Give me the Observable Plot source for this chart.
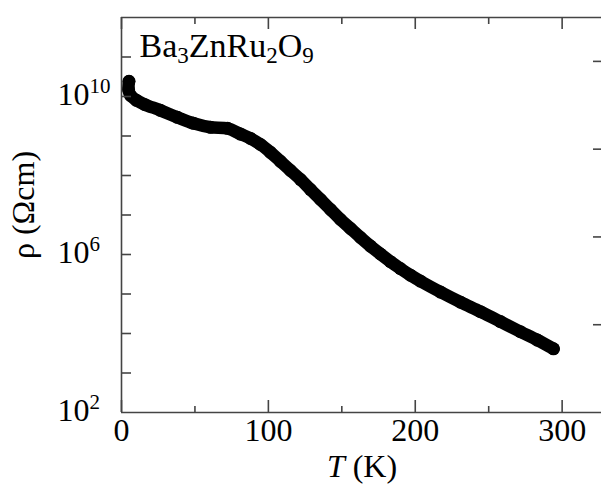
<!DOCTYPE html>
<html><head><meta charset="utf-8">
<script src="https://cdn.jsdelivr.net/npm/d3@7"></script>
<script src="https://cdn.jsdelivr.net/npm/@observablehq/plot@0.6"></script>
<style>
html,body{margin:0;padding:0;background:#fff}
svg{display:block}
svg text{font-family:'Liberation Serif','Times New Roman',serif !important;}
</style>
</head><body><div id="chart"></div>
<script>
// Data (T in K, rho in Ohm cm)
const temperature = [5.1, 4.8, 6.1, 10.2, 15.7, 26.5, 38.1, 49.0, 60.6, 72.2, 81.0, 87.8, 94.6, 101.4, 108.2, 115.0, 121.9, 128.7, 135.5, 142.3, 149.1, 155.9, 162.7, 169.5, 176.3, 183.1, 189.9, 196.7, 203.5, 217.2, 230.8, 244.4, 258.0, 271.6, 283.2, 294.1];
const resistivity = [2.43e10, 1.5e10, 1.07e10, 8.0e9, 6.3e9, 4.47e9, 2.97e9, 2.09e9, 1.66e9, 1.56e9, 1.12e9, 8.7e8, 6.1e8, 3.85e8, 2.28e8, 1.34e8, 7.9e7, 4.4e7, 2.47e7, 1.38e7, 7.7e6, 4.55e6, 2.69e6, 1.63e6, 1.03e6, 6.6e5, 4.4e5, 3.0e5, 2.12e5, 1.12e5, 6.2e4, 3.57e4, 2.0e4, 1.11e4, 6.8e3, 4.1e3];

const xDomain = [0, 326.8];
const yDomain = [1e2, 1e12];
const xMajorTicks = [0, 100, 200, 300];
const xMinorTicks = [50, 150, 250];
const yDecadeExponents = [3, 4, 5, 6, 7, 8, 9, 10, 11];
const yLabelExponents = [2, 6, 10];
const rightTicks = [1, 2, 3, 4];
const rightAxisMax = 4.5;

const data = temperature.map((t, i) => ({T: t, rho: resistivity[i]}));

const W = 601, H = 484;
const mL = 121, mR = 0, mT = 17, mB = 72;
const iw = W - mL - mR, ih = H - mT - mB;
const axisColor = "#444";
const serif = "'Liberation Serif', 'Times New Roman', serif";

const yLog = (e) => Math.pow(10, e);
const rightToY = (k) => Math.pow(10, Math.log10(yDomain[0]) + (Math.log10(yDomain[1]) - Math.log10(yDomain[0])) * k / rightAxisMax);

const chart = Plot.plot({
  width: W, height: H,
  marginLeft: mL, marginRight: mR, marginTop: mT, marginBottom: mB,
  style: {fontFamily: serif, background: "#fff", color: "#000"},
  x: {domain: xDomain, axis: null},
  y: {type: "log", domain: yDomain, axis: null},
  marks: [
    Plot.line(data, {x: "T", y: "rho", stroke: "#000", strokeWidth: 12.5, strokeLinecap: "round", strokeLinejoin: "round", curve: "catmull-rom"}),
    Plot.dot(data, {x: "T", y: "rho", r: 6.5, fill: "#000", stroke: "none"}),
    // frame lines (left, top, bottom)
    Plot.ruleX([xDomain[0]], {stroke: axisColor, strokeWidth: 1.6}),
    Plot.ruleY([yDomain[0], yDomain[1]], {stroke: axisColor, strokeWidth: 1.6}),
    // x ticks (inward) bottom and top
    Plot.tickX(xMajorTicks, {x: d => d, stroke: axisColor, strokeWidth: 1.6, insetTop: ih - 12}),
    Plot.tickX(xMinorTicks, {x: d => d, stroke: axisColor, strokeWidth: 1.6, insetTop: ih - 6}),
    Plot.tickX(xMajorTicks, {x: d => d, stroke: axisColor, strokeWidth: 1.6, insetBottom: ih - 12}),
    Plot.tickX(xMinorTicks, {x: d => d, stroke: axisColor, strokeWidth: 1.6, insetBottom: ih - 7}),
    // y ticks left (decades)
    Plot.tickY(yDecadeExponents, {y: d => yLog(d), stroke: axisColor, strokeWidth: 1.6, insetRight: iw - 10}),
    // right-side ticks
    Plot.tickY(rightTicks, {y: d => rightToY(d), stroke: axisColor, strokeWidth: 1.6, insetLeft: iw - 8}),
    // x tick labels
    Plot.text(xMajorTicks, {x: d => d, frameAnchor: "bottom", text: d => String(d), fontSize: 32, fontFamily: serif, fill: "#000", lineAnchor: "middle", dy: 18.5}),
    // y tick labels: 10 with superscript exponent
    Plot.text(yLabelExponents, {y: d => yLog(d), frameAnchor: "left", text: () => "10", textAnchor: "start", dx: -64, dy: -2, fontSize: 32, fontFamily: serif, fill: "#000", lineAnchor: "middle"}),
    Plot.text(yLabelExponents, {y: d => yLog(d), frameAnchor: "left", text: d => String(d), textAnchor: "start", dx: -32, dy: -10, fontSize: 21, fontFamily: serif, fill: "#000", lineAnchor: "middle"})
  ]
});

const svg = d3.select(chart);
// compound label
const comp = svg.append("text").attr("x", 139.5).attr("y", 57).attr("text-anchor", "start").style("font-family", serif).attr("font-size", 34).attr("fill", "#000");
const parts = [["Ba", false], ["3", true], ["ZnRu", false], ["2", true], ["O", false], ["9", true]];
let sub = false;
for (const [s, isSub] of parts) {
  const t = comp.append("tspan").text(s);
  if (isSub && !sub) { t.attr("dy", 6).attr("font-size", 23); sub = true; }
  else if (isSub) { t.attr("font-size", 23); }
  else if (sub) { t.attr("dy", -6); sub = false; }
}
// x axis title
const xt = svg.append("text").attr("x", 362).attr("y", 477).attr("text-anchor", "middle").style("font-family", serif).attr("font-size", 32).attr("fill", "#000");
xt.append("tspan").attr("font-style", "italic").text("T");
xt.append("tspan").text(" (K)");
// y axis title
svg.append("text").attr("transform", "translate(33.5,205) rotate(-90)").attr("text-anchor", "middle").style("font-family", serif).attr("font-size", 32).attr("fill", "#000").text("ρ (Ωcm)");

document.getElementById("chart").appendChild(chart);
</script>
</body></html>
